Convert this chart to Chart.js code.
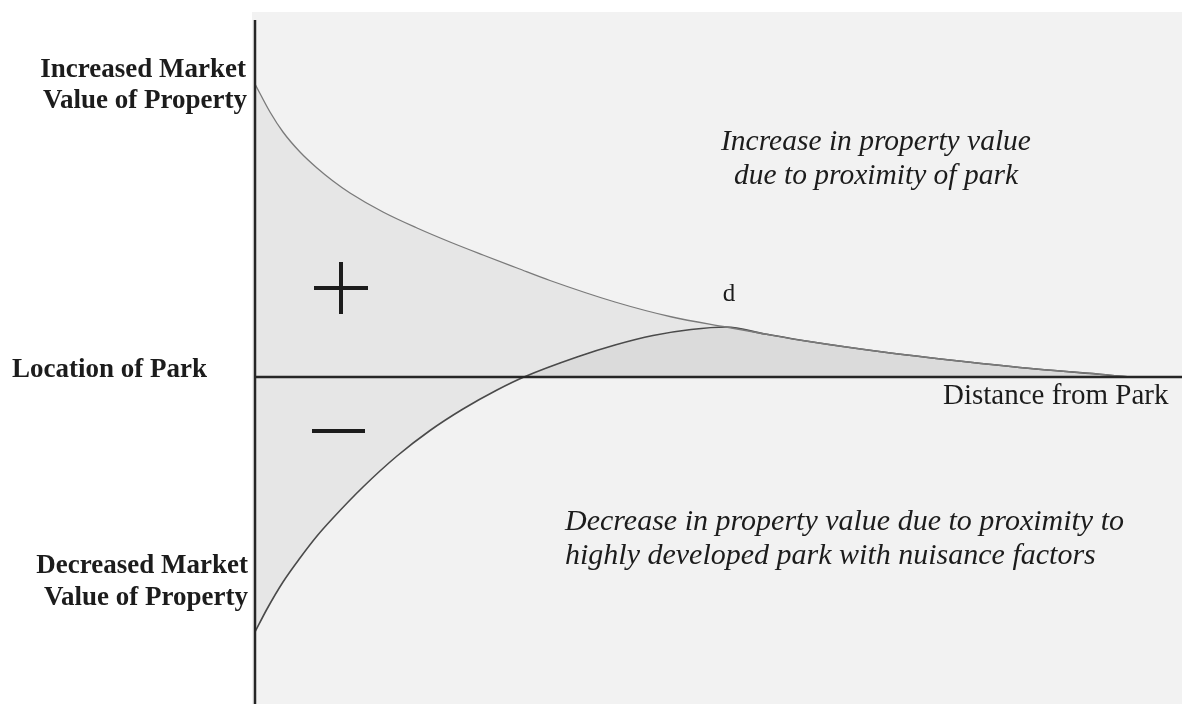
<!DOCTYPE html>
<html>
<head>
<meta charset="utf-8">
<script src="https://cdn.jsdelivr.net/npm/chart.js@4"></script>
<style>
    html, body { margin: 0; padding: 0; background: #ffffff; }
    canvas { display: block; }
</style>
</head>
<body>
<canvas id="grafica" width="1182" height="704"></canvas>
<script>
// Curva superior: aumento del valor por cercania al parque
const upperDistance = [0, 0.15, 0.28, 0.45, 0.62, 0.78, 0.95, 1.28, 1.62, 1.95, 2.28, 2.62, 2.95, 3.60, 4.17, 4.71, 5.10, 5.51, 6.28, 7.04, 7.81, 8.42, 8.80, 9.27];
const upperValue    = [2.93, 2.65, 2.45, 2.25, 2.09, 1.96, 1.84, 1.65, 1.49, 1.35, 1.22, 1.09, 0.965, 0.75, 0.60, 0.50, 0.43, 0.36, 0.25, 0.16, 0.08, 0.03, 0, 0];

// Curva inferior: perdida de valor cerca de un parque con molestias
const lowerDistance = [0, 0.12, 0.28, 0.45, 0.62, 0.78, 1.08, 1.42, 1.75, 2.08, 2.42, 2.69, 3.22, 3.60, 3.98, 4.36, 4.71, 5.10, 5.51, 6.28, 7.04, 7.81, 8.42, 8.80, 9.27];
const lowerValue    = [-2.55, -2.32, -2.05, -1.81, -1.59, -1.41, -1.10, -0.79, -0.535, -0.32, -0.13, 0, 0.20, 0.32, 0.415, 0.475, 0.50, 0.43, 0.36, 0.25, 0.16, 0.08, 0.03, 0, 0];

const distanceRange = [0, 9.27];
const valueRange = [-3.27, 3.57];

const serif = "'Liberation Serif', 'DejaVu Serif', serif";
const ink = "#1c1c1c";

const toPoints = (xs, ys) => xs.map((x, i) => ({ x: x, y: ys[i] }));

// fondo gris del panel
const panelPlugin = {
    id: "panel",
    beforeDraw(chart) {
        const { ctx, chartArea } = chart;
        ctx.save();
        ctx.fillStyle = "#ffffff";
        ctx.fillRect(0, 0, chart.width, chart.height);
        ctx.fillStyle = "#f2f2f2";
        ctx.fillRect(chartArea.left - 3, chartArea.top - 8,
            chartArea.right - chartArea.left + 3, chartArea.bottom - chartArea.top + 8);
        ctx.restore();
    }
};

// ejes y textos
const annotationPlugin = {
    id: "anotaciones",
    afterDatasetsDraw(chart) {
        const { ctx, chartArea, scales } = chart;
        const x0 = scales.x.getPixelForValue(0);
        const y0 = scales.y.getPixelForValue(0);

        ctx.save();
        ctx.strokeStyle = "#262626";
        ctx.lineWidth = 2.5;
        ctx.beginPath();
        ctx.moveTo(chartArea.left, y0);
        ctx.lineTo(chartArea.right, y0);
        ctx.moveTo(x0, chartArea.top);
        ctx.lineTo(x0, chartArea.bottom);
        ctx.stroke();

        // signos + y -
        ctx.lineWidth = 4;
        ctx.strokeStyle = ink;
        ctx.beginPath();
        ctx.moveTo(314, 288); ctx.lineTo(368, 288);
        ctx.moveTo(341, 262); ctx.lineTo(341, 314);
        ctx.moveTo(312, 431); ctx.lineTo(365, 431);
        ctx.stroke();

        ctx.fillStyle = ink;
        ctx.textBaseline = "alphabetic";

        ctx.font = `bold 27px ${serif}`;
        ctx.textAlign = "right";
        ctx.fillText("Increased Market", 246, 77);
        ctx.fillText("Value of Property", 247, 108);
        ctx.fillText("Decreased Market", 248, 573);
        ctx.fillText("Value of Property", 248, 605);
        ctx.textAlign = "left";
        ctx.fillText("Location of Park", 12, y0);

        ctx.font = `italic 29.5px ${serif}`;
        ctx.textAlign = "center";
        ctx.fillText("Increase in property value", 876, 150);
        ctx.fillText("due to proximity of park", 876, 184);
        ctx.font = `italic 30px ${serif}`;
        ctx.textAlign = "left";
        ctx.fillText("Decrease in property value due to proximity to", 565, 530);
        ctx.fillText("highly developed park with nuisance factors", 565, 564);

        ctx.font = `25px ${serif}`;
        ctx.textAlign = "center";
        ctx.fillText("d", 729, 301);
        ctx.font = `29px ${serif}`;
        ctx.textAlign = "left";
        ctx.fillText("Distance from Park", 943, 404);
        ctx.restore();
    }
};

new Chart(document.getElementById("grafica"), {
    type: "line",
    data: {
        datasets: [
            {
                label: "Increase",
                data: toPoints(upperDistance, upperValue),
                borderColor: "#7a7a7a",
                borderWidth: 1.3,
                backgroundColor: "rgba(0, 0, 0, 0.048)",
                fill: "origin"
            },
            {
                label: "Decrease",
                data: toPoints(lowerDistance, lowerValue),
                borderColor: "#4a4a4a",
                borderWidth: 1.6,
                backgroundColor: "rgba(0, 0, 0, 0.048)",
                fill: "origin"
            }
        ]
    },
    options: {
        responsive: false,
        animation: false,
        devicePixelRatio: 1,
        layout: { padding: { left: 255, top: 20, right: 0, bottom: 0 } },
        elements: {
            point: { radius: 0 },
            line: { cubicInterpolationMode: "monotone" }
        },
        plugins: {
            legend: { display: false },
            tooltip: { enabled: false },
            filler: { drawTime: "beforeDatasetsDraw" }
        },
        scales: {
            x: { type: "linear", min: distanceRange[0], max: distanceRange[1], display: false },
            y: { type: "linear", min: valueRange[0], max: valueRange[1], display: false }
        }
    },
    plugins: [panelPlugin, annotationPlugin]
});
</script>
</body>
</html>
